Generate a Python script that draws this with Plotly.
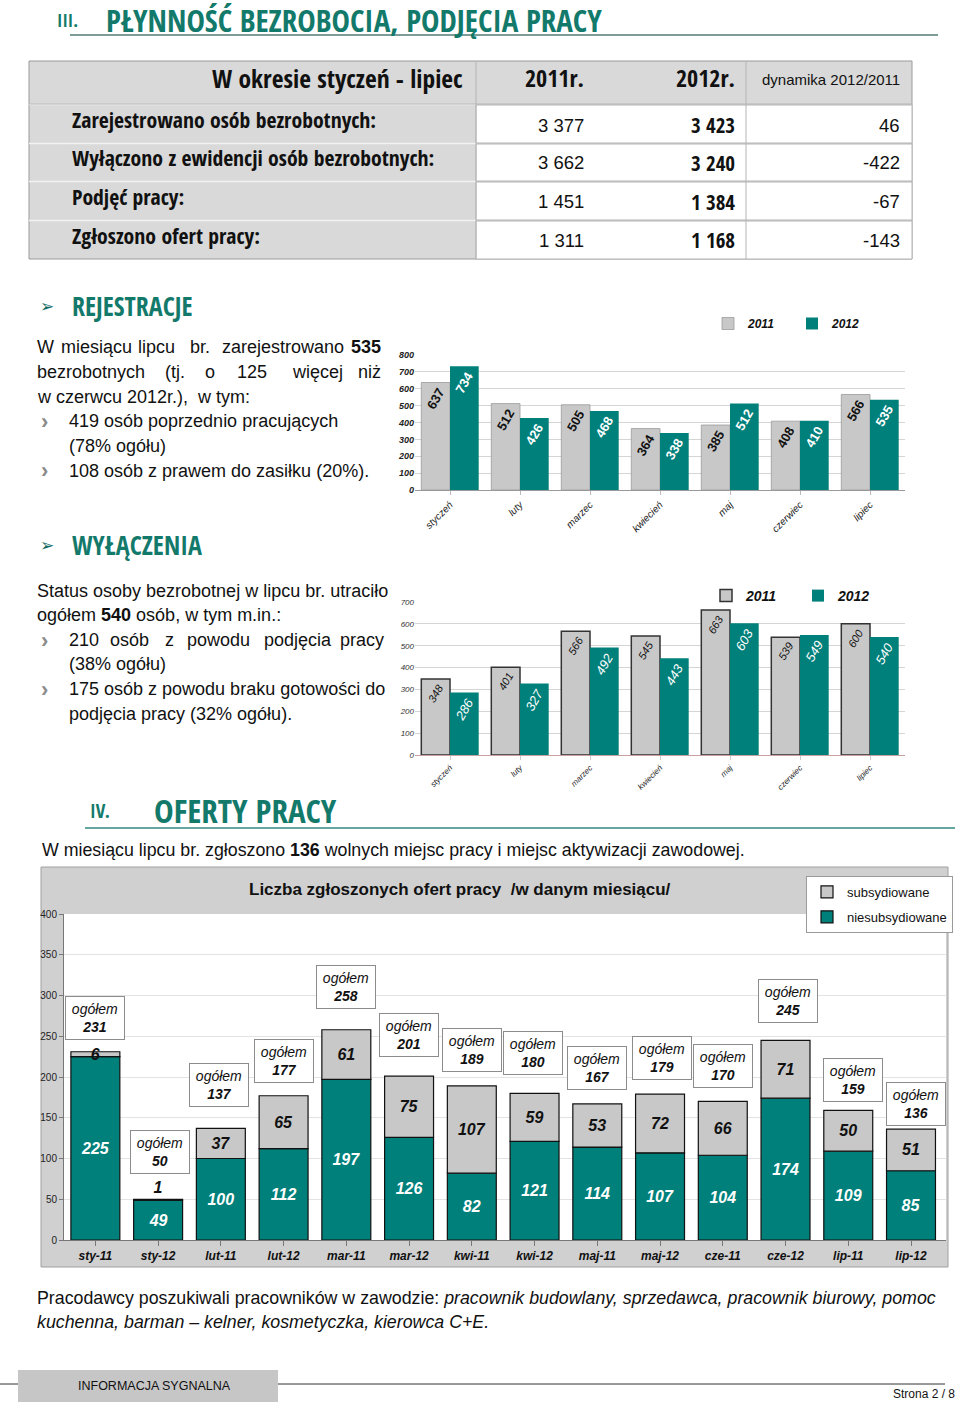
import plotly.graph_objects as go

W, H = 960, 1405
def X(p): return p / W
def Y(p): return 1 - p / H

TEAL = "#00807a"
GBAR = "#c8c8c8"
HEAD = "#137a6b"
COND = "Open Sans Condensed, Liberation Sans, sans-serif"
ARIAL = "Liberation Sans, Arial, sans-serif"

# ---------------- data ----------------
table_header = ["W okresie styczeń - lipiec", "2011r.", "2012r.", "dynamika 2012/2011"]
table_rows = ["Zarejestrowano osób bezrobotnych:", "Wyłączono z ewidencji osób bezrobotnych:",
              "Podjęć pracy:", "Zgłoszono ofert pracy:"]
table_2011 = ["3 377", "3 662", "1 451", "1 311"]
table_2012 = ["3 423", "3 240", "1 384", "1 168"]
table_dyn = ["46", "-422", "-67", "-143"]

months = ["styczeń", "luty", "marzec", "kwiecień", "maj", "czerwiec", "lipiec"]
reg_2011 = [637, 512, 505, 364, 385, 408, 566]
reg_2012 = [734, 426, 468, 338, 512, 410, 535]
out_2011 = [348, 401, 566, 545, 663, 539, 600]
out_2012 = [286, 327, 492, 443, 603, 549, 540]

offer_cats = ["sty-11", "sty-12", "lut-11", "lut-12", "mar-11", "mar-12", "kwi-11",
              "kwi-12", "maj-11", "maj-12", "cze-11", "cze-12", "lip-11", "lip-12"]
offer_unsub = [225, 49, 100, 112, 197, 126, 82, 121, 114, 107, 104, 174, 109, 85]
offer_sub = [6, 1, 37, 65, 61, 75, 107, 59, 53, 72, 66, 71, 50, 51]
offer_total = [231, 50, 137, 177, 258, 201, 189, 180, 167, 179, 170, 245, 159, 136]

box_dy = [34, 47, 43, 35, 43, 41, 36, 40, 36, 36, 35, 39, 30, 25]
box_dx = [0, 2, -2, 0, 0, 0, 0, -2, 0, 2, 0, 2, 5, 5]

fig = go.Figure()
shapes = []
ann = []

def text(x, y, s, size=18, color="#111", family=ARIAL, anchor="left", weight=400, style="normal", **kw):
    ann.append(dict(x=X(x), y=Y(y), xref="paper", yref="paper", text=s, showarrow=False,
                    xanchor=anchor, yanchor="middle",
                    font=dict(size=size, color=color, family=family, weight=weight, style=style), **kw))

def rect(x0, y0, x1, y1, fill, line=None, lw=1, layer="below"):
    shapes.append(dict(type="rect", xref="paper", yref="paper", x0=X(x0), x1=X(x1), y0=Y(y1), y1=Y(y0),
                       fillcolor=fill, line=dict(color=line or fill, width=lw if line else 0), layer=layer))

def hline(x0, x1, y, color, w=1, layer="above"):
    shapes.append(dict(type="line", xref="paper", yref="paper", x0=X(x0), x1=X(x1), y0=Y(y), y1=Y(y),
                       line=dict(color=color, width=w), layer=layer))

def vline(x, y0, y1, color, w=1, layer="above"):
    shapes.append(dict(type="line", xref="paper", yref="paper", x0=X(x), x1=X(x), y0=Y(y0), y1=Y(y1),
                       line=dict(color=color, width=w), layer=layer))

# ---------------- header III ----------------
text(55, 20, "III.", size=18, color=HEAD, family=COND, weight=700)
text(104, 20, "PŁYNNOŚĆ BEZROBOCIA, PODJĘCIA PRACY", size=31, color=HEAD, family=COND, weight=700)
hline(70, 938, 35, "#7e9c97", 2)

# ---------------- table ----------------
rect(29, 61, 912, 259, "#d9d9d9", "#9a9a9a", 1)
row_y = [(105, 143), (144, 181), (182, 220), (221, 259)]
for (a, b) in row_y:
    rect(476, a, 912, b, "#ffffff", "#b5b5b5", 1)
    hline(29, 476, a - 0.5, "#f2f2f2", 1.5)
vline(476, 61, 259, "#b5b5b5", 1)
vline(746, 61, 259, "#b5b5b5", 1)
hline(29, 912, 104, "#b5b5b5", 1)

text(465, 78, table_header[0], size=25.5, anchor="right", family=COND, weight=700)
text(586, 78, table_header[1], size=24, anchor="right", family=COND, weight=700)
text(737, 78, table_header[2], size=24, anchor="right", family=COND, weight=700)
text(902, 79, table_header[3], size=15, anchor="right")
lab_y = [119, 157, 196, 235]
val_y = [125, 163, 202, 240]
for i in range(4):
    text(70, lab_y[i], table_rows[i], size=21.7, family=COND, weight=700)
    text(586, val_y[i], table_2011[i], size=18.5, anchor="right")
    text(737, val_y[i], table_2012[i], size=21, anchor="right", family=COND, weight=700)
    text(902, val_y[i], table_dyn[i], size=18.5, anchor="right")

# ---------------- REJESTRACJE text ----------------
text(38, 306, "➢", size=17, color="#0d6b5f", family="DejaVu Sans")
text(70, 306, "REJESTRACJE", size=26, color=HEAD, family=COND, weight=700)

def words(ws, xs, y, size=18):
    for w_, x_ in zip(ws, xs):
        text(x_, y, w_, size=size)

def bullet(y):
    text(39, y, "<b>›</b>", size=22, color="#8a8a8a")

words(["W", "miesiącu", "lipcu", "br.", "zarejestrowano", "<b>535</b>"],
      [35, 59, 136, 188, 220, 349], 347)
words(["bezrobotnych", "(tj.", "o", "125", "więcej", "niż"],
      [35, 163, 203, 235, 290, 356], 372)
text(35, 397, "w czerwcu 2012r.),  w tym:")
bullet(421)
text(67, 421, "419 osób poprzednio pracujących")
text(67, 446, "(78% ogółu)")
bullet(471)
text(67, 471, "108 osób z prawem do zasiłku (20%).")

# ---------------- WYŁĄCZENIA text ----------------
text(38, 545, "➢", size=17, color="#0d6b5f", family="DejaVu Sans")
text(70, 545, "WYŁĄCZENIA", size=26, color=HEAD, family=COND, weight=700)
text(35, 591, "Status osoby bezrobotnej w lipcu br. utraciło")
text(35, 615, "ogółem <b>540</b> osób, w tym m.in.:")
bullet(640)
words(["210", "osób", "z", "powodu", "podjęcia", "pracy"], [67, 108, 163, 185, 262, 338], 640)
text(67, 664, "(38% ogółu)")
bullet(689)
text(67, 689, "175 osób z powodu braku gotowości do")
text(67, 714, "podjęcia pracy (32% ogółu).")

# ---------------- chart 1 ----------------
w1 = 0.41
fig.add_trace(go.Bar(x=months, y=reg_2011, name="2011", xaxis="x", yaxis="y", legend="legend",
                     marker=dict(color=GBAR, line=dict(color="#9a9a9a", width=0.8)),
                     offset=-w1, width=w1, text=reg_2011, textposition="inside", insidetextanchor="end",
                     textangle=-60, constraintext="none",
                     textfont=dict(size=13, color="#111", family=ARIAL, weight="bold")))
fig.add_trace(go.Bar(x=months, y=reg_2012, name="2012", xaxis="x", yaxis="y", legend="legend",
                     marker=dict(color=TEAL, line=dict(width=0)),
                     offset=0, width=w1, text=reg_2012, textposition="inside", insidetextanchor="end",
                     textangle=-60, constraintext="none",
                     textfont=dict(size=13, color="#ffffff", family=ARIAL, weight="bold")))

# ---------------- chart 2 ----------------
fig.add_trace(go.Bar(x=months, y=out_2011, name="2011", xaxis="x2", yaxis="y2", legend="legend2",
                     marker=dict(color=GBAR, line=dict(color="#333333", width=1.5)),
                     offset=-w1, width=w1, text=out_2011, textposition="inside", insidetextanchor="end",
                     textangle=-60, constraintext="none",
                     textfont=dict(size=11, color="#111", family=ARIAL, style="italic")))
fig.add_trace(go.Bar(x=months, y=out_2012, name="2012", xaxis="x2", yaxis="y2", legend="legend2",
                     marker=dict(color=TEAL, line=dict(width=0)),
                     offset=0, width=w1, text=out_2012, textposition="inside", insidetextanchor="end",
                     textangle=-60, constraintext="none",
                     textfont=dict(size=13, color="#ffffff", family=ARIAL, style="italic")))

# ---------------- chart 3 ----------------
rect(41, 867, 948, 1267, "#d0d0d0", "#a0a0a0", 1)
rect(64, 914, 946, 1240, "#ffffff")
w3 = 0.78
fig.add_trace(go.Bar(x=offer_cats, y=offer_unsub, name="niesubsydiowane", xaxis="x3", yaxis="y3",
                     legend="legend3", legendrank=2, legendgroup="b",
                     marker=dict(color=TEAL, line=dict(color="#111", width=1.2)),
                     offset=-w3 / 2, width=w3, text=offer_unsub, textposition="inside",
                     insidetextanchor="middle", textangle=0, constraintext="none",
                     textfont=dict(size=16, color="#ffffff", family=ARIAL, weight="bold", style="italic")))
pos = ["outside" if v < 3 else "inside" for v in offer_sub]
fig.add_trace(go.Bar(x=offer_cats, y=offer_sub, base=offer_unsub, name="subsydiowane", xaxis="x3",
                     yaxis="y3", legend="legend3", legendrank=1, legendgroup="a",
                     marker=dict(color=GBAR, line=dict(color="#111", width=1.2)),
                     offset=-w3 / 2, width=w3, text=offer_sub, textposition=pos,
                     insidetextanchor="middle", textangle=0, constraintext="none", cliponaxis=False,
                     textfont=dict(size=16, color="#111", family=ARIAL, weight="bold", style="italic")))

for i, c in enumerate(offer_cats):
    ann.append(dict(x=c, y=offer_total[i], xref="x3", yref="y3", yshift=box_dy[i], xshift=box_dx[i],
                    text="<i>ogółem</i><br><b><i>%d</i></b>" % offer_total[i], showarrow=False,
                    xanchor="center", yanchor="middle", bgcolor="#ffffff", bordercolor="#8c8c8c",
                    borderwidth=1, borderpad=2, width=54, height=38,
                    font=dict(size=14, color="#111", family=ARIAL)))

text(460, 889, "<b>Liczba zgłoszonych ofert pracy  /w danym miesiącu/</b>", size=17, anchor="center")

# ---------------- section IV ----------------
text(88, 811, "IV.", size=19, color=HEAD, family=COND, weight=700)
text(152, 810, "OFERTY PRACY", size=33, color=HEAD, family=COND, weight=700)
hline(85, 955, 828, "#2f8a80", 1.5)
text(40, 850, "W miesiącu lipcu br. zgłoszono <b>136</b> wolnych miejsc pracy i miejsc aktywizacji zawodowej.",
     size=17.8)
text(35, 1298, "Pracodawcy poszukiwali pracowników w zawodzie: <i>pracownik budowlany, sprzedawca, pracownik biurowy, pomoc</i>",
     size=17.8)
text(35, 1322, "<i>kuchenna, barman – kelner, kosmetyczka, kierowca C+E.</i>", size=17.8)

# ---------------- footer ----------------
hline(0, 945, 1384, "#333333", 1)
rect(18, 1370, 278, 1402, "#c6c6c6", layer="above")
text(76, 1386, "INFORMACJA SYGNALNA", size=12.5)
text(957, 1394, "Strona 2 / 8", size=12, anchor="right")

# ---------------- axes ----------------
tick_small = dict(size=9, color="#222", family=ARIAL, style="italic", weight="bold")
fig.update_layout(
    width=W, height=H, margin=dict(l=0, r=0, t=0, b=0, autoexpand=False),
    paper_bgcolor="#ffffff", plot_bgcolor="rgba(0,0,0,0)",
    barmode="overlay", showlegend=True,
    xaxis=dict(domain=[X(415), X(905)], anchor="y", tickangle=-45, showline=True, linecolor="#999",
               ticks="outside", ticklen=4, tickcolor="#bbb", showgrid=False,
               tickfont=dict(size=10, color="#222", family=ARIAL, style="italic")),
    yaxis=dict(domain=[Y(490), Y(355)], anchor="x", range=[0, 800], dtick=100, showgrid=True,
               gridcolor="#d5d5d5", zeroline=False, tickfont=tick_small, ticklen=0),
    xaxis2=dict(domain=[X(415), X(905)], anchor="y2", tickangle=-45, showline=True, linecolor="#c9a0a0",
                ticks="outside", ticklen=4, tickcolor="#ccc", showgrid=False,
                tickfont=dict(size=8, color="#222", family=ARIAL, style="italic")),
    yaxis2=dict(domain=[Y(755), Y(602)], anchor="x2", range=[0, 700], dtick=100, showgrid=True,
                gridcolor="#d5d5d5", zeroline=False,
                tickfont=dict(size=8, color="#333", family=ARIAL, style="italic")),
    xaxis3=dict(domain=[X(64), X(946)], anchor="y3", showline=True, linecolor="#777", ticks="outside",
                ticklen=5, tickcolor="#777", showgrid=False, tickangle=0,
                tickfont=dict(size=12, color="#111", family=ARIAL, style="italic", weight="bold")),
    yaxis3=dict(domain=[Y(1240), Y(914)], anchor="x3", range=[0, 400], dtick=50, showgrid=True,
                gridcolor="#e3e3e3", zeroline=False, showline=True, linecolor="#777", ticks="outside",
                ticklen=4, tickcolor="#777",
                tickfont=dict(size=10, color="#222", family=ARIAL)),
    legend=dict(orientation="h", x=X(708), y=Y(309), xanchor="left", yanchor="top",
                bgcolor="rgba(0,0,0,0)", itemwidth=30, entrywidth=39,
                font=dict(size=12, color="#111", family=ARIAL, style="italic", weight="bold")),
    legend2=dict(orientation="h", x=X(706), y=Y(580), xanchor="left", yanchor="top",
                 bgcolor="rgba(0,0,0,0)", itemwidth=30, entrywidth=47,
                 font=dict(size=14, color="#111", family=ARIAL, style="italic", weight="bold")),
    legend3=dict(orientation="v", x=X(806), y=Y(876), xanchor="left", yanchor="top",
                 bgcolor="#ffffff", bordercolor="#9a9a9a", borderwidth=1, itemwidth=30,
                 tracegroupgap=5, font=dict(size=13, color="#111", family=ARIAL)),
    shapes=shapes, annotations=ann,
)

fig.write_html("out.html", config={"displayModeBar": False},
               post_script="document.body.style.margin='0';document.body.style.overflow='hidden';")
